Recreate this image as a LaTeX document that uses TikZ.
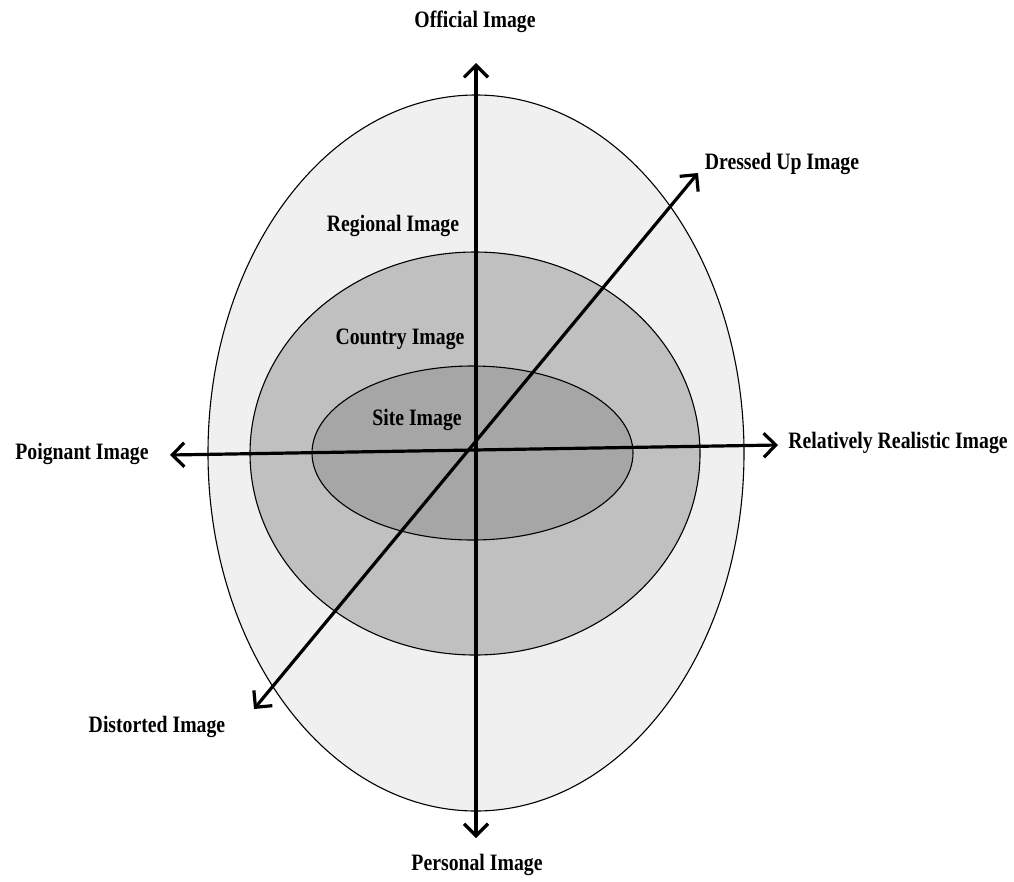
\documentclass[tikz,border=0pt]{standalone}
\usepackage{fontspec}
\setmainfont{Liberation Serif}[FakeStretch=0.84]
\usetikzlibrary{arrows.meta}
\definecolor{ringA}{HTML}{F0F0F0}
\definecolor{ringB}{HTML}{C0C0C0}
\definecolor{ringC}{HTML}{A6A6A6}
\tikzset{
  zone/.style={draw=black, line width=1.1pt},
  axis/.style={line width=3.2pt, {Straight Barb[length=12pt,width=24pt]}-{Straight Barb[length=12pt,width=24pt]}},
  lbl/.style={font=\fontsize{23.5}{25}\selectfont\bfseries, inner sep=0pt},
}
\begin{document}
\begin{tikzpicture}[x=1pt,y=-1pt]
\useasboundingbox (0,0) rectangle (1014,881);
% nested image zones
\fill[ringA] (476,453) ellipse [x radius=268, y radius=358];
\draw[zone] (476,453) ellipse [x radius=268, y radius=358];
\fill[ringB] (475,453.5) ellipse [x radius=225, y radius=201.5];
\draw[zone] (475,453.5) ellipse [x radius=225, y radius=201.5];
\fill[ringC] (472.5,453) ellipse [x radius=160.5, y radius=87];
\draw[zone] (472.5,453) ellipse [x radius=160.5, y radius=87];
% axis end points
\coordinate (top) at (476,63);
\coordinate (bot) at (476,838);
\coordinate (lft) at (170,455);
\coordinate (rgt) at (778,445);
\coordinate (dl) at (254,709);
\coordinate (ur) at (698,173);
\draw[axis] (bot) -- (top);
\draw[axis] (lft) -- (rgt);
\draw[axis] (dl) -- (ur);
% labels
\node[lbl] (official) at (475,22) {Official Image};
\node[lbl] (dressed) at (782,164) {Dressed Up Image};
\node[lbl] (regional) at (393,226) {Regional Image};
\node[lbl] (country) at (400,339) {Country Image};
\node[lbl] (site) at (417,420) {Site Image};
\node[lbl] (poignant) at (82,454) {Poignant Image};
\node[lbl] (realistic) at (898,443) {Relatively Realistic Image};
\node[lbl] (distorted) at (157,727) {Distorted Image};
\node[lbl] (personal) at (477,865) {Personal Image};
\end{tikzpicture}
\end{document}
